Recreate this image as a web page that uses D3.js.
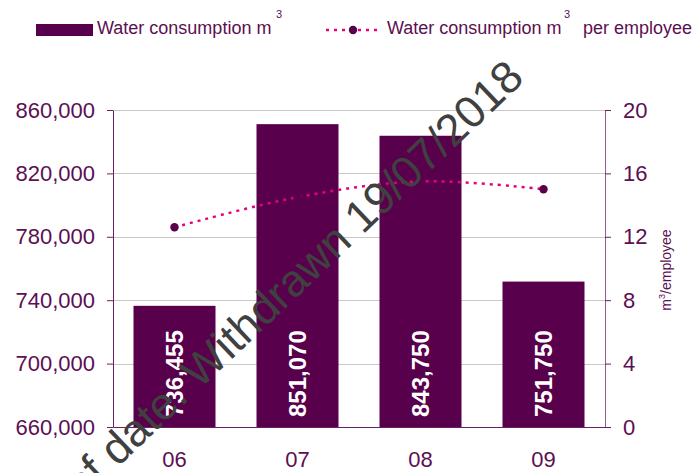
<!DOCTYPE html>
<html>
<head>
<meta charset="utf-8">
<script src="https://cdn.jsdelivr.net/npm/d3@7/dist/d3.min.js"></script>
<style>
  body { margin: 0; background: #fff; }
  svg { font-family: "Liberation Sans", Arial, sans-serif; }
</style>
</head>
<body>
<div id="chart"></div>
<script>
var years = ['06', '07', '08', '09'];
var consumption = [736455, 851070, 843750, 751750];
var perEmployee = [12.6, 14.5, 15.5, 15.0];
var leftTicks = [660000, 700000, 740000, 780000, 820000, 860000];
var rightTicks = [0, 4, 8, 12, 16, 20];

var W = 698, H = 473;
var plotLeft = 113, plotRight = 605, plotTop = 110, plotBottom = 427;
var barColor = '#58004c', textColor = '#5c0f52', lineColor = '#e6007e';

var svg = d3.select('#chart').append('svg')
  .attr('width', W).attr('height', H);

var x = d3.scaleBand().domain(years).range([plotLeft, plotRight])
  .paddingInner(1 / 3).paddingOuter(1 / 6);
var yL = d3.scaleLinear().domain([660000, 860000]).range([plotBottom, plotTop]);
var yR = d3.scaleLinear().domain([0, 20]).range([plotBottom, plotTop]);

// gridlines
svg.append('g').selectAll('line')
  .data(leftTicks.slice(1))
  .enter().append('line')
  .attr('x1', plotLeft).attr('x2', plotRight)
  .attr('y1', function(d) { return Math.round(yL(d)) + 0.5; })
  .attr('y2', function(d) { return Math.round(yL(d)) + 0.5; })
  .attr('stroke', '#c8c8c8').attr('stroke-width', 1);

// bars
svg.append('g').selectAll('rect')
  .data(consumption)
  .enter().append('rect')
  .attr('fill', barColor)
  .attr('x', function(d, i) { return x(years[i]); })
  .attr('y', function(d) { return yL(d); })
  .attr('width', x.bandwidth())
  .attr('height', function(d) { return plotBottom - yL(d); });

// bar labels
var fmt = d3.format(',');
svg.append('g').selectAll('text')
  .data(consumption)
  .enter().append('text')
  .attr('transform', function(d, i) {
    return 'translate(' + (x(years[i]) + x.bandwidth() / 2) + ',417) rotate(-90)';
  })
  .attr('dy', '0.36em')
  .attr('fill', '#fff')
  .attr('font-weight', 'bold')
  .attr('font-size', 24)
  .text(function(d) { return fmt(d); });

// axes
var axL = svg.append('g')
  .attr('transform', 'translate(' + plotLeft + ',0)')
  .call(d3.axisLeft(yL).tickValues(leftTicks).tickFormat(fmt)
    .tickSize(6).tickSizeOuter(0).tickPadding(12));
var axR = svg.append('g')
  .attr('transform', 'translate(' + plotRight + ',0)')
  .call(d3.axisRight(yR).tickValues(rightTicks)
    .tickSize(6).tickSizeOuter(0).tickPadding(12));
var axB = svg.append('g')
  .attr('transform', 'translate(0,' + plotBottom + ')')
  .call(d3.axisBottom(x).tickSize(0).tickPadding(24));

[axL, axR, axB].forEach(function(a) {
  a.selectAll('text').attr('fill', textColor).attr('font-size', 22)
    .attr('font-family', '"Liberation Sans", Arial, sans-serif');
  a.selectAll('line').attr('stroke', '#6b1f60');
  a.select('.domain').attr('stroke', '#6b1f60');
});
axR.select('.domain').attr('stroke', '#9a5c91');

// right axis title
var rt = svg.append('text')
  .attr('transform', 'translate(671,270) rotate(-90)')
  .attr('text-anchor', 'middle')
  .attr('fill', textColor)
  .attr('font-size', 14);
rt.append('tspan').text('m');
rt.append('tspan').attr('font-size', 9).attr('dy', -6).text('3');
rt.append('tspan').attr('dy', 6).text('/employee');

// line
var line = d3.line()
  .x(function(d, i) { return x(years[i]) + x.bandwidth() / 2; })
  .y(function(d) { return yR(d); })
  .curve(d3.curveCatmullRom.alpha(0));

svg.append('path')
  .datum(perEmployee)
  .attr('d', line)
  .attr('fill', 'none')
  .attr('stroke', lineColor)
  .attr('stroke-width', 2.5)
  .attr('stroke-dasharray', '3,5');

svg.append('g').selectAll('circle')
  .data(perEmployee)
  .enter().append('circle')
  .attr('cx', function(d, i) { return x(years[i]) + x.bandwidth() / 2; })
  .attr('cy', function(d) { return yR(d); })
  .attr('r', 4.2)
  .attr('fill', barColor);

// legend
var lg = svg.append('g');
lg.append('rect').attr('x', 36).attr('y', 24).attr('width', 57).attr('height', 12)
  .attr('fill', barColor);
lg.append('text').attr('x', 97).attr('y', 34).attr('font-size', 18)
  .attr('fill', textColor).text('Water consumption m');
lg.append('text').attr('x', 276).attr('y', 18).attr('font-size', 11)
  .attr('fill', textColor).text('3');

lg.append('line').attr('x1', 326).attr('x2', 380).attr('y1', 30).attr('y2', 30)
  .attr('stroke', lineColor).attr('stroke-width', 2.5).attr('stroke-dasharray', '3,5');
lg.append('circle').attr('cx', 353).attr('cy', 30).attr('r', 4.2).attr('fill', barColor);
lg.append('text').attr('x', 387).attr('y', 34).attr('font-size', 18)
  .attr('fill', textColor).text('Water consumption m');
lg.append('text').attr('x', 564).attr('y', 18).attr('font-size', 11)
  .attr('fill', textColor).text('3');
lg.append('text').attr('x', 583).attr('y', 34).attr('font-size', 18)
  .attr('fill', textColor).text('per employee');

// watermark
svg.append('text')
  .attr('transform', 'translate(526,80) rotate(-43.5)')
  .attr('text-anchor', 'end')
  .attr('font-size', 45)
  .attr('fill', '#404040')
  .text('Out of date. Withdrawn 19/07/2018');
</script>
</body>
</html>
